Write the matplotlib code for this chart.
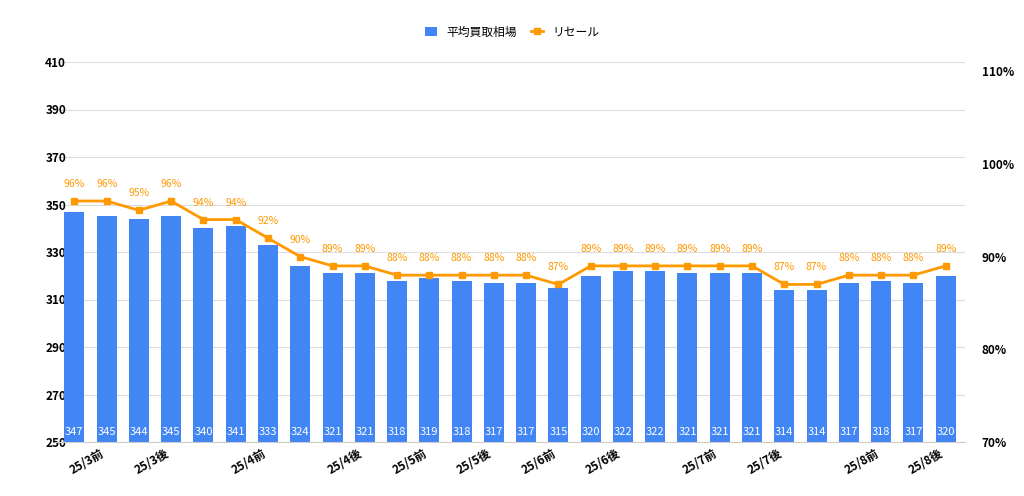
import matplotlib.pyplot as plt
from matplotlib.ticker import FuncFormatter

plt.rcParams['font.family'] = ['Noto Sans CJK JP']

# ============================ Data ============================
LABELS = ['', '25/3前', '', '25/3後', '', '', '25/4前', '', '', '25/4後',
          '', '25/5前', '', '25/5後', '', '25/6前', '', '25/6後', '', '',
          '25/7前', '', '25/7後', '', '', '25/8前', '', '25/8後']
PRICES = [347, 345, 344, 345, 340, 341, 333, 324, 321, 321, 318, 319, 318, 317,
          317, 315, 320, 322, 322, 321, 321, 321, 314, 314, 317, 318, 317, 320]
RESALE = [96, 96, 95, 96, 94, 94, 92, 90, 89, 89, 88, 88, 88, 88,
          88, 87, 89, 89, 89, 89, 89, 89, 87, 87, 88, 88, 88, 89]

BLUE = '#4285f4'
ORANGE = '#ff9900'

fig = plt.figure(figsize=(10.24, 4.96), dpi=100)
ax = fig.add_axes([55 / 1024, 54 / 496, 910 / 1024, 380 / 496])
x = list(range(len(PRICES)))

bars = ax.bar(x, PRICES, width=0.62, color=BLUE, label='平均買取相場', zorder=2)
for xi, v in zip(x, PRICES):
    ax.text(xi, 252, str(v), ha='center', va='bottom', color='white', fontsize=8, zorder=3)

ax.set_ylim(250, 410)
ax.set_yticks(range(250, 411, 20))
ax.set_xlim(-0.6, len(PRICES) - 0.4)
ax.grid(axis='y', color='#dddddd', linewidth=0.8, zorder=0)
ax.set_xticks(x)
ax.set_xticklabels(LABELS, rotation=30, ha='right', fontsize=8.5)
ax.tick_params(axis='both', length=0, labelsize=8.5)
ax.tick_params(axis='y', pad=-8)
for lbl in ax.get_yticklabels():
    lbl.set_horizontalalignment('right')
    lbl.set_fontweight('bold')
for lbl in ax.get_xticklabels():
    lbl.set_fontweight('bold')
for s in ax.spines.values():
    s.set_visible(False)
ax.spines['bottom'].set_visible(True)
ax.spines['bottom'].set_color('#cccccc')

ax2 = ax.twinx()
ax2.plot(x, RESALE, color=ORANGE, linewidth=2, marker='s', markersize=5, label='リセール', zorder=4)
for xi, v in zip(x, RESALE):
    ax2.text(xi, v + 1.3, f'{v}%', ha='center', va='bottom', color=ORANGE, fontsize=7.5)
ax2.set_ylim(70, 111)
ax2.set_yticks(range(70, 111, 10))
ax2.yaxis.set_major_formatter(FuncFormatter(lambda v, p: f'{int(v)}%'))
ax2.tick_params(axis='y', length=0, labelsize=8.5, pad=12)
for lbl in ax2.get_yticklabels():
    lbl.set_fontweight('bold')
for s in ax2.spines.values():
    s.set_visible(False)

h1, l1 = ax.get_legend_handles_labels()
h2, l2 = ax2.get_legend_handles_labels()
fig.legend(h1 + h2, l1 + l2, loc='upper center', bbox_to_anchor=(0.5, 0.97), ncol=2,
           frameon=False, fontsize=8.5, handlelength=1.0, columnspacing=1.2)

fig.savefig('out.png', dpi=100)
